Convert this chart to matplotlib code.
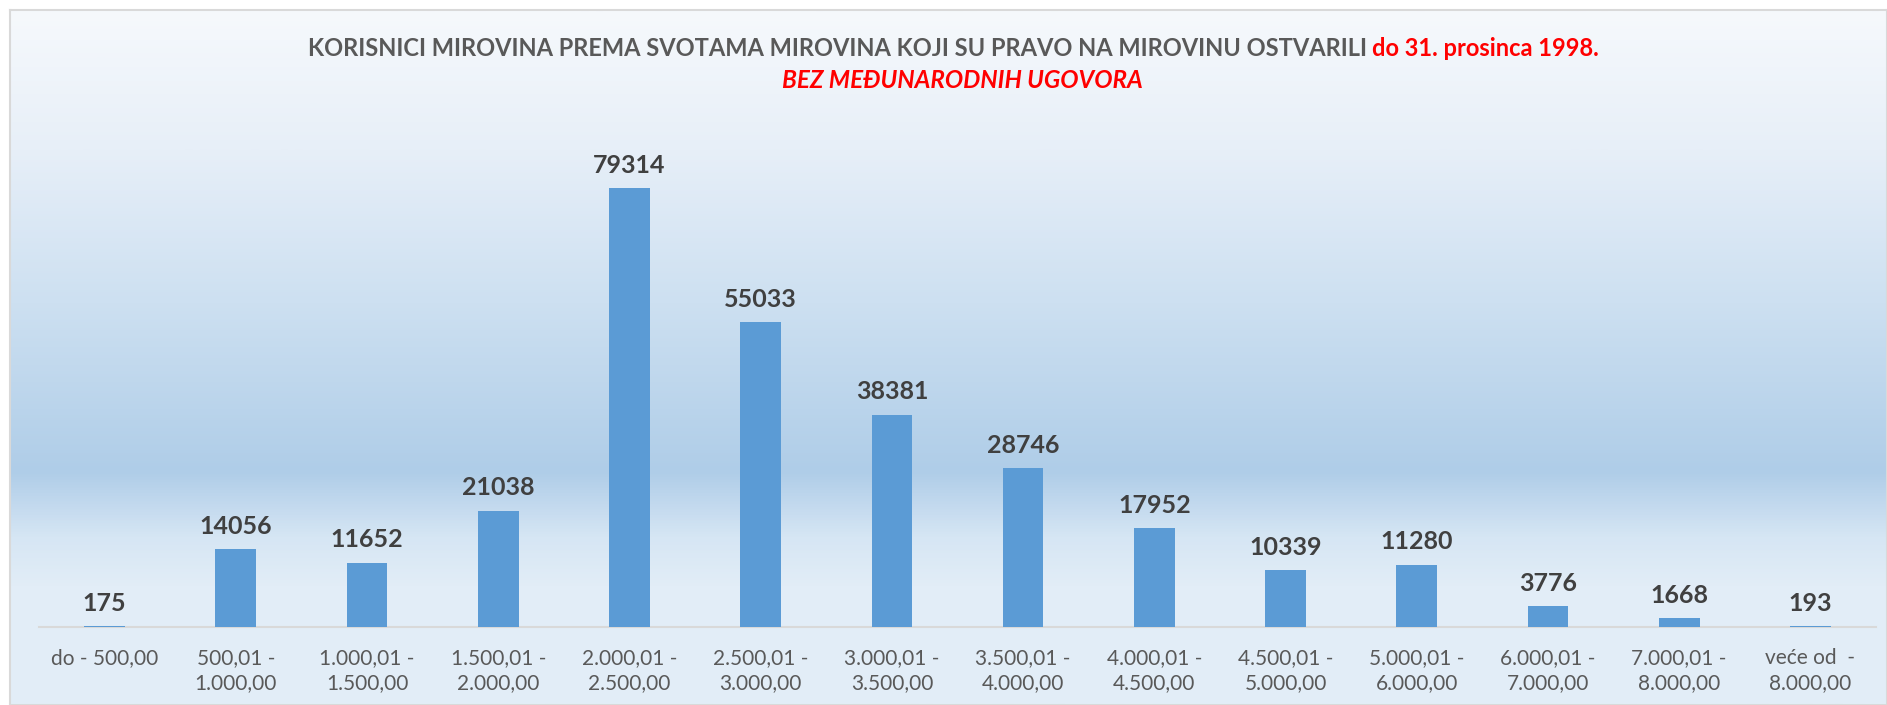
import matplotlib
matplotlib.use("Agg")
import matplotlib.pyplot as plt
import numpy as np
from matplotlib.colors import LinearSegmentedColormap

categories = ["do - 500,00", "500,01 -\n1.000,00", "1.000,01 -\n1.500,00", "1.500,01 -\n2.000,00",
              "2.000,01 -\n2.500,00", "2.500,01 -\n3.000,00", "3.000,01 -\n3.500,00", "3.500,01 -\n4.000,00",
              "4.000,01 -\n4.500,00", "4.500,01 -\n5.000,00", "5.000,01 -\n6.000,00", "6.000,01 -\n7.000,00",
              "7.000,01 -\n8.000,00", "veće od  -\n8.000,00"]
values = [175, 14056, 11652, 21038, 79314, 55033, 38381, 28746, 17952, 10339, 11280, 3776, 1668, 193]

title_gray = "KORISNICI MIROVINA PREMA SVOTAMA MIROVINA KOJI SU PRAVO NA MIROVINU OSTVARILI "
title_red = "do 31. prosinca 1998."
subtitle = "BEZ MEĐUNARODNIH UGOVORA"

plt.rcParams['font.family'] = ['Lato', 'DejaVu Sans']

W, H = 1887, 705
fig = plt.figure(figsize=(W / 100, H / 100), dpi=100)
fig.patch.set_facecolor("white")

# background gradient panel
bg = fig.add_axes([10 / W, 0, 1 - 10 / W, (H - 10) / H])
stops = [(0.0, "#f6f9fc"), (0.2, "#e7eff8"), (0.42, "#cde0f1"), (0.665, "#afcde8"),
         (0.76, "#d6e6f4"), (0.83, "#e2edf7"), (1.0, "#e3eef8")]
cmap = LinearSegmentedColormap.from_list("bgg", stops)
grad = np.linspace(0, 1, 512).reshape(-1, 1)
bg.imshow(grad, aspect="auto", cmap=cmap, extent=[0, 1, 1, 0])
bg.set_xlim(0, 1)
bg.set_ylim(1, 0)
bg.set_xticks([])
bg.set_yticks([])
for s in bg.spines.values():
    s.set_color("#d9d9d9")
    s.set_linewidth(1.5)

# main axes
base_y = 627
top_y = 100
ax = fig.add_axes([39 / W, (H - base_y) / H, (1876 - 39) / W, (base_y - top_y) / H])
ax.patch.set_alpha(0)
x = np.arange(len(categories))
ax.bar(x, values, width=0.31, color="#5b9bd5", zorder=3)
ymax = 79314 * (base_y - top_y) / (base_y - 188)
ax.set_ylim(0, ymax)
ax.set_xlim(-0.5, len(categories) - 0.5)
for xi, v in zip(x, values):
    ax.annotate(str(v), (xi, v), xytext=(0, 8), textcoords="offset points",
                ha="center", va="bottom", fontsize=18, fontweight="bold", color="#404040")
ax.set_xticks(x)
ax.set_xticklabels(categories, fontsize=15, color="#595959", linespacing=1.32, va="top")
ax.tick_params(axis="x", length=0, pad=15)
ax.set_yticks([])
for s in ["top", "right", "left"]:
    ax.spines[s].set_visible(False)
ax.spines["bottom"].set_color("#d9d9d9")
ax.spines["bottom"].set_linewidth(1.5)

# title (two colours, centred as a whole)
fs = 17
fig.canvas.draw()
r = fig.canvas.get_renderer()
tmp_g = fig.text(0, 0, title_gray, fontsize=fs, fontweight="bold")
tmp_r = fig.text(0, 0, title_red, fontsize=fs, fontweight="bold")
wg = tmp_g.get_window_extent(r).width
wr = tmp_r.get_window_extent(r).width
tmp_g.remove(); tmp_r.remove()
start = (W - (wg + wr)) / 2 + 10
fig.text(start / W, 1 - 49 / H, title_gray, fontsize=fs, fontweight="bold", color="#595959",
         ha="left", va="center")
fig.text((start + wg) / W, 1 - 49 / H, title_red, fontsize=fs, fontweight="bold", color="#ff0000",
         ha="left", va="center")
fig.text(962 / W, 1 - 80 / H, subtitle, fontsize=17.5, fontweight="bold", style="italic",
         color="#ff0000", ha="center", va="center")

fig.savefig("out.png", dpi=100, facecolor="white")
